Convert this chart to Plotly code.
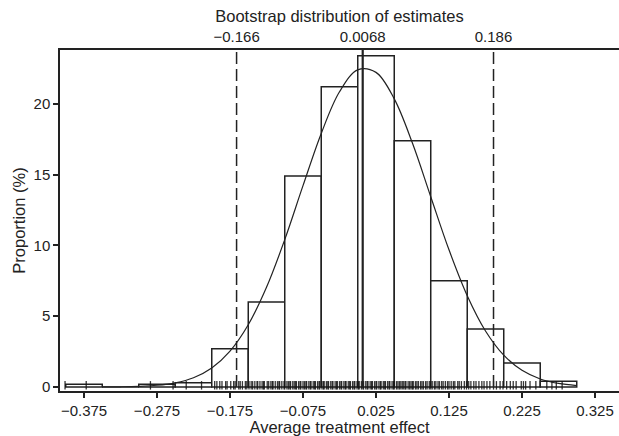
import plotly.graph_objects as go

# ---- data ----
bin_edges = [-0.40, -0.35, -0.30, -0.25, -0.20, -0.15, -0.10, -0.05,
             0.00, 0.05, 0.10, 0.15, 0.20, 0.25, 0.30]
bin_heights = [0.2, 0.0, 0.2, 0.3, 2.7, 6.0, 14.9, 21.2, 23.4, 17.4, 7.5, 4.1, 1.7, 0.4]

curve_x = [-0.350, -0.325, -0.300, -0.275, -0.250, -0.225, -0.200, -0.175, -0.150,
           -0.125, -0.100, -0.075, -0.050, -0.025, 0.000, 0.025, 0.050, 0.075,
           0.100, 0.125, 0.150, 0.175, 0.200, 0.225, 0.250, 0.275, 0.300]
curve_y = [0.006, 0.018, 0.049, 0.126, 0.30, 0.66, 1.35, 2.54, 4.40,
           7.04, 10.41, 14.22, 17.91, 20.85, 22.40, 22.22, 20.35, 17.21,
           13.44, 9.69, 6.45, 3.96, 2.25, 1.18, 0.57, 0.255, 0.105]

ci_lower = -0.166
estimate = 0.0068
ci_upper = 0.186
top_tick_labels = ["\u22120.166", "0.0068", "0.186"]

rug_values = [
    -0.401, -0.372, -0.284, -0.253, -0.235, -0.214, -0.196, -0.193, -0.189, -0.186,
    -0.181, -0.179, -0.174, -0.170, -0.168, -0.163, -0.161, -0.158, -0.154, -0.152,
    -0.149, -0.146, -0.144, -0.141, -0.138, -0.137, -0.134, -0.131, -0.129, -0.128,
    -0.124, -0.122, -0.119, -0.117, -0.116, -0.113, -0.110, -0.108, -0.107, -0.104,
    -0.101, -0.100, -0.097, -0.095, -0.093, -0.092, -0.089, -0.087, -0.085, -0.084,
    -0.081, -0.079, -0.078, -0.075, -0.073, -0.071, -0.070, -0.067, -0.065, -0.064,
    -0.061, -0.059, -0.058, -0.055, -0.053, -0.052, -0.049, -0.047, -0.046, -0.043,
    -0.041, -0.040, -0.037, -0.035, -0.034, -0.031, -0.029, -0.028, -0.025, -0.023,
    -0.022, -0.019, -0.017, -0.016, -0.013, -0.011, -0.010, -0.007, -0.005, -0.004,
    -0.001, 0.001, 0.002, 0.005, 0.007, 0.008, 0.011, 0.013, 0.014, 0.017,
    0.019, 0.020, 0.023, 0.025, 0.026, 0.029, 0.031, 0.032, 0.035, 0.037,
    0.038, 0.041, 0.043, 0.044, 0.047, 0.049, 0.050, 0.053, 0.055, 0.057,
    0.059, 0.061, 0.063, 0.065, 0.066, 0.069, 0.071, 0.073, 0.075, 0.076,
    0.079, 0.081, 0.083, 0.086, 0.088, 0.090, 0.093, 0.095, 0.098, 0.100,
    0.102, 0.105, 0.107, 0.110, 0.112, 0.115, 0.117, 0.120, 0.123, 0.125,
    0.128, 0.131, 0.133, 0.137, 0.139, 0.142, 0.146, 0.149, 0.152, 0.155,
    0.159, 0.162, 0.166, 0.170, 0.173, 0.177, 0.181, 0.186, 0.190, 0.195,
    0.199, 0.204, 0.209, 0.213, 0.217, 0.224, 0.227, 0.230, 0.236, 0.244,
    0.259, 0.266, 0.272, 0.280,
]

x_tick_vals = [-0.375, -0.275, -0.175, -0.075, 0.025, 0.125, 0.225, 0.325]
x_tick_text = ["\u22120.375", "\u22120.275", "\u22120.175", "\u22120.075",
               "0.025", "0.125", "0.225", "0.325"]
y_tick_vals = [0, 5, 10, 15, 20]

x_range = [-0.4079, 0.3579]
y_range = [-0.28, 23.8]

INK = "#222222"
FONT = "Liberation Sans, Arial, Helvetica, sans-serif"
TICK_SIZE = 15
TITLE_SIZE = 16.5

bin_centers = [(a + b) / 2 for a, b in zip(bin_edges[:-1], bin_edges[1:])]
bin_width = bin_edges[1] - bin_edges[0]

fig = go.Figure()

fig.add_trace(go.Bar(
    x=bin_centers, y=bin_heights, width=bin_width,
    marker=dict(color="white", line=dict(color=INK, width=1.5)),
    hoverinfo="skip", showlegend=False,
))

fig.add_trace(go.Scatter(
    x=curve_x, y=curve_y, mode="lines", line=dict(color=INK, width=1.2, shape="spline"),
    hoverinfo="skip", showlegend=False,
))

# rug
rx, ry = [], []
for v in rug_values:
    rx += [v, v, None]
    ry += [-0.18, 0.42, None]
fig.add_trace(go.Scatter(
    x=rx, y=ry, mode="lines", line=dict(color="rgba(20,20,20,0.85)", width=1.3),
    hoverinfo="skip", showlegend=False,
))

# CI and estimate lines
for v, dash, w in [(ci_lower, "12px,5px", 1.5), (ci_upper, "12px,5px", 1.5), (estimate, "solid", 2.2)]:
    fig.add_trace(go.Scatter(
        x=[v, v], y=[0, y_range[1]], mode="lines",
        line=dict(color=INK, width=w, dash=dash),
        hoverinfo="skip", showlegend=False,
    ))

# invisible trace for top axis
fig.add_trace(go.Scatter(x=[ci_lower, ci_upper], y=[0, 0], xaxis="x2", mode="markers",
                         marker=dict(opacity=0), hoverinfo="skip", showlegend=False))

fig.update_layout(
    width=619, height=436,
    margin=dict(l=60, r=0, t=50, b=45),
    paper_bgcolor="white", plot_bgcolor="white",
    font=dict(family=FONT, color=INK, size=TICK_SIZE),
    barmode="overlay",
    xaxis=dict(
        range=x_range, tickvals=x_tick_vals, ticktext=x_tick_text, automargin=False,
        ticks="outside", ticklen=5, tickwidth=1.5, tickcolor=INK,
        showline=True, linecolor=INK, linewidth=1.5, showgrid=False, zeroline=False,
        tickfont=dict(size=TICK_SIZE),
        title=dict(text="Average treatment effect", font=dict(size=TITLE_SIZE), standoff=4),
    ),
    xaxis2=dict(
        overlaying="x", side="top", range=x_range, matches="x", automargin=False,
        tickvals=[ci_lower, estimate, ci_upper], ticktext=top_tick_labels,
        ticks="", showline=True, linecolor=INK, linewidth=1.5, showgrid=False, zeroline=False,
        tickfont=dict(size=TICK_SIZE),
        title=dict(text="Bootstrap distribution of estimates", font=dict(size=TITLE_SIZE), standoff=1),
    ),
    yaxis=dict(
        range=y_range, tickvals=y_tick_vals, automargin=False,
        ticks="outside", ticklen=5, tickwidth=1.5, tickcolor=INK,
        showline=True, linecolor=INK, linewidth=1.5, showgrid=False, zeroline=False,
        tickfont=dict(size=TICK_SIZE),
        title=dict(text="Proportion (%)", font=dict(size=TITLE_SIZE), standoff=4),
    ),
)

fig.write_html("out.html", post_script="document.body.style.margin='0';",
               config={"displayModeBar": False})
